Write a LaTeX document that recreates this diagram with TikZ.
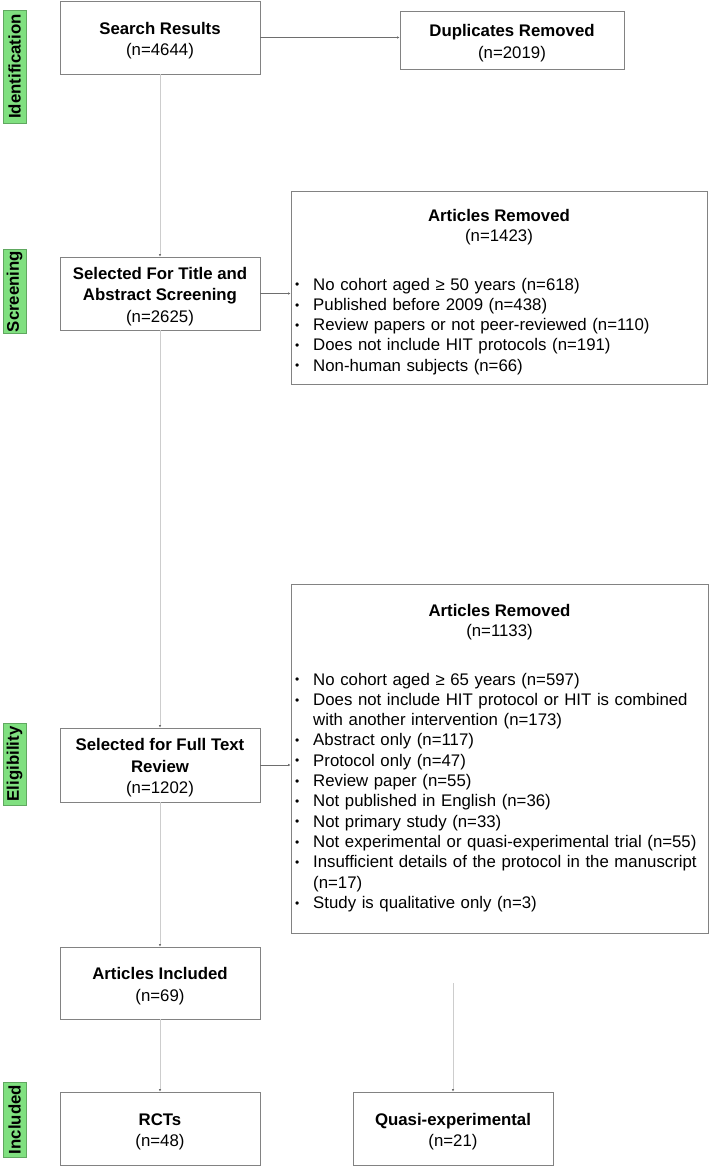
\documentclass[tikz,border=0pt]{standalone}
\usepackage{fontspec}
\setmainfont{Liberation Sans}
\usetikzlibrary{arrows.meta}
\definecolor{labgreen}{RGB}{128,224,128}
\definecolor{boxgray}{RGB}{130,130,130}
\definecolor{linelight}{RGB}{205,205,205}
\definecolor{linedark}{RGB}{110,110,110}
\newcommand\tstrut{\rule{0pt}{18pt}}
\newcommand\bitem[1]{\par\noindent\hangindent=19pt\hangafter=1\makebox[19pt][l]{\hspace{1pt}\raisebox{1.3pt}{\fontsize{12}{12}\selectfont\textbullet}}#1}
\begin{document}
\begin{tikzpicture}[x=1pt,y=-1pt,
  every node/.style={font=\fontsize{16.8}{21.5}\selectfont},
  flowbox/.style={draw=boxgray, line width=0.8pt, minimum width=200pt, minimum height=73pt, align=center, inner sep=0pt},
  rembox/.style={draw=boxgray, line width=0.8pt, inner sep=0pt},
  headtext/.style={align=center, inner sep=0pt, font=\fontsize{16.8}{20}\selectfont},
  stagelabel/.style={fill=labgreen, draw=labgreen!75!black, line width=0.5pt, rotate=90, minimum height=23pt, inner sep=0pt, font=\bfseries\fontsize{16.8}{20}\selectfont},
  listtext/.style={anchor=north west, inner sep=0pt, text width=420pt, align=left, font=\fontsize{16.8}{20.3}\selectfont},
  vline/.style={draw=linelight, line width=0.8pt, -{Latex[length=2.4pt,width=2.4pt,color=linedark]}},
  hline/.style={draw=linedark, line width=0.8pt, -{Latex[length=2.4pt,width=2.4pt]}}
]
\useasboundingbox (0,0) rectangle (709,1167);

% stage labels
\node[stagelabel, minimum width=113pt] (lid) at (14.5,66.5) {Identification};
\node[stagelabel, minimum width=84pt] (lscr) at (14.5,291.5) {Screening};
\node[stagelabel, minimum width=82pt] (lelig) at (14.5,764) {Eligibility};
\node[stagelabel, minimum width=75pt] (lincl) at (14.5,1119.5) {Included};

% main boxes
\node[flowbox] (search) at (160,37.5) {\tstrut\textbf{Search Results}\\(n=4644)};
\node[flowbox, minimum width=224pt, minimum height=58pt] (dup) at (512,40) {\tstrut\textbf{Duplicates Removed}\\(n=2019)};
\node[flowbox] (title) at (160,293.5) {\tstrut\textbf{Selected For Title and}\\\textbf{Abstract Screening}\\(n=2625)};
\node[flowbox, minimum height=74pt] (full) at (160,765) {\tstrut\textbf{Selected for Full Text}\\\textbf{Review}\\(n=1202)};
\node[flowbox, minimum height=72pt] (incl) at (160,983) {\tstrut\textbf{Articles Included}\\(n=69)};
\node[flowbox] (rct) at (160,1128.5) {\tstrut\textbf{RCTs}\\(n=48)};
\node[flowbox] (quasi) at (453,1128.5) {\tstrut\textbf{Quasi-experimental}\\(n=21)};

% removed boxes
\node[rembox, minimum width=416pt, minimum height=193pt] (rem1) at (499,287.5) {};
\node[headtext] (rem1t) at (499,227) {\textbf{Articles Removed}\\(n=1423)};
\node[listtext] (rem1l) at (294,269.5) {%
\bitem{No cohort aged ≥ 50 years (n=618)}%
\bitem{Published before 2009 (n=438)}%
\bitem{Review papers or not peer-reviewed (n=110)}%
\bitem{Does not include HIT protocols (n=191)}%
\bitem{Non-human subjects (n=66)}};

\node[rembox, minimum width=417pt, minimum height=349pt] (rem2) at (499.5,758.5) {};
\node[headtext] (rem2t) at (499.5,622) {\textbf{Articles Removed}\\(n=1133)};
\node[listtext] (rem2l) at (294,664.5) {%
\bitem{No cohort aged ≥ 65 years (n=597)}%
\bitem{Does not include HIT protocol or HIT is combined\newline with another intervention (n=173)}%
\bitem{Abstract only (n=117)}%
\bitem{Protocol only (n=47)}%
\bitem{Review paper (n=55)}%
\bitem{Not published in English (n=36)}%
\bitem{Not primary study (n=33)}%
\bitem{Not experimental or quasi-experimental trial (n=55)}%
\bitem{Insufficient details of the protocol in the manuscript\newline (n=17)}%
\bitem{Study is qualitative only (n=3)}};

\coordinate (qstart) at (453,983);

% connectors
\draw[hline] (search.east) -- (search.east -| dup.west);
\draw[vline] (search.south) -- (search.south |- title.north);
\draw[hline] (title.east) -- (title.east -| rem1.west);
\draw[vline] (title.south) -- (title.south |- full.north);
\draw[hline] (full.east) -- (full.east -| rem2.west);
\draw[vline] (full.south) -- (full.south |- incl.north);
\draw[vline] (incl.south) -- (incl.south |- rct.north);
\draw[vline] (qstart) -- (qstart |- quasi.north);
\end{tikzpicture}
\end{document}
